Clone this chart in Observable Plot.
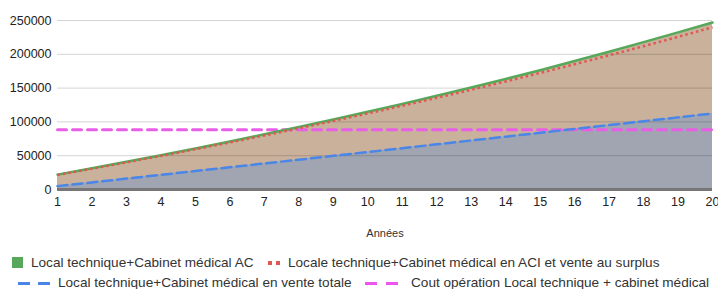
<!DOCTYPE html>
<html><head><meta charset="utf-8">
<script src="https://cdn.jsdelivr.net/npm/d3@7"></script>
<script src="https://cdn.jsdelivr.net/npm/@observablehq/plot@0.6"></script>
<style>
body{margin:0;background:#fff;font-family:"Liberation Sans",Arial,sans-serif;}
#wrap{position:relative;width:718px;height:289px;overflow:hidden;}
.lg{position:absolute;font-size:13.6px;color:#333;white-space:nowrap;line-height:16px;}
.sw{position:absolute;}
</style></head>
<body><div id="wrap"></div>
<script>
const years = [1,2,3,4,5,6,7,8,9,10,11,12,13,14,15,16,17,18,19,20];
const acValues = [22000,31400,41000,50800,60800,71100,81600,92400,103500,114900,126600,138600,150900,163500,176400,190000,203800,218000,232400,247000];
const aciValues = [21500,30700,40100,49700,59500,69600,79900,90500,101400,112500,123900,135600,147600,159800,172400,185300,198500,212000,225800,240000];
const venteValues = [5000,10500,16100,21700,27300,32900,38500,44100,49800,55400,61100,66800,72500,78200,83900,89600,95300,101000,106700,112400];
const coutValues = years.map(() => 88500);
const yTicks = [0,50000,100000,150000,200000,250000];
const seriesNames = ["Local technique+Cabinet médical AC","Locale technique+Cabinet médical en ACI et vente au surplus","Local technique+Cabinet médical en vente totale","Cout opération Local technique + cabinet médical"];

const rows = years.map((y,i)=>({year:y, ac:acValues[i], aci:aciValues[i], vente:venteValues[i], cout:coutValues[i]}));

const chart = Plot.plot({
  width: 718, height: 245,
  marginLeft: 57, marginRight: 6, marginTop: 20, marginBottom: 56,
  style: {fontFamily: '"Liberation Sans", Arial, sans-serif', fontSize: "12.5px", color: "#222", background: "#fff"},
  x: {domain: [1,20], ticks: years, tickFormat: d => String(d), tickSize: 0, tickPadding: 8, label: null},
  y: {domain: [0,250000], ticks: yTicks, tickFormat: d3.format("d"), tickSize: 0, tickPadding: 6, label: null},
  marks: [
    Plot.areaY(rows, {x: "year", y: "ac", fill: "#c9b19c"}),
    Plot.areaY(rows, {x: "year", y: "vente", fill: "#a1a5b1"}),
    Plot.ruleY(yTicks.slice(1), {stroke: "#000", strokeOpacity: 0.17}),
    Plot.ruleY([0], {stroke: "#777", strokeWidth: 3}),
    Plot.lineY(rows, {x: "year", y: "cout", stroke: "#e95ee6", strokeWidth: 3, strokeDasharray: "9,6"}),
    Plot.lineY(rows, {x: "year", y: "vente", stroke: "#4a86e8", strokeWidth: 2.5, strokeDasharray: "10,5"}),
    Plot.lineY(rows, {x: "year", y: "ac", stroke: "#57a85a", strokeWidth: 2.5}),
    Plot.lineY(rows, {x: "year", y: "aci", stroke: "#e0584f", strokeWidth: 2.5, strokeDasharray: "2.5,3", strokeLinecap: "butt"}),
    Plot.text(["Années"], {frameAnchor: "bottom", dy: 47, fontSize: 11, fill: "#333"})
  ]
});
const wrap = document.getElementById("wrap");
wrap.appendChild(chart);

function addSwatch(html){ wrap.insertAdjacentHTML("beforeend", html); }
// legend row 1
addSwatch('<div class="sw" style="left:12px;top:257px;width:11px;height:11px;background:#57a85a"></div>');
addSwatch('<div class="lg" style="left:31px;top:255px">'+seriesNames[0]+'</div>');
addSwatch('<div class="sw" style="left:268px;top:261px;width:4px;height:4px;background:#e0584f"></div><div class="sw" style="left:276px;top:261px;width:4px;height:4px;background:#e0584f"></div>');
addSwatch('<div class="lg" style="left:288px;top:255px">'+seriesNames[1]+'</div>');
// legend row 2
addSwatch('<div class="sw" style="left:18px;top:282px;width:12px;height:3px;background:#4a86e8"></div><div class="sw" style="left:38px;top:282px;width:12px;height:3px;background:#4a86e8"></div>');
addSwatch('<div class="lg" style="left:58px;top:275px">'+seriesNames[2]+'</div>');
addSwatch('<div class="sw" style="left:365px;top:282px;width:12px;height:3px;background:#ee55ee"></div><div class="sw" style="left:386px;top:282px;width:12px;height:3px;background:#ee55ee"></div>');
addSwatch('<div class="lg" style="left:411px;top:275px">'+seriesNames[3]+'</div>');
</script></body></html>
